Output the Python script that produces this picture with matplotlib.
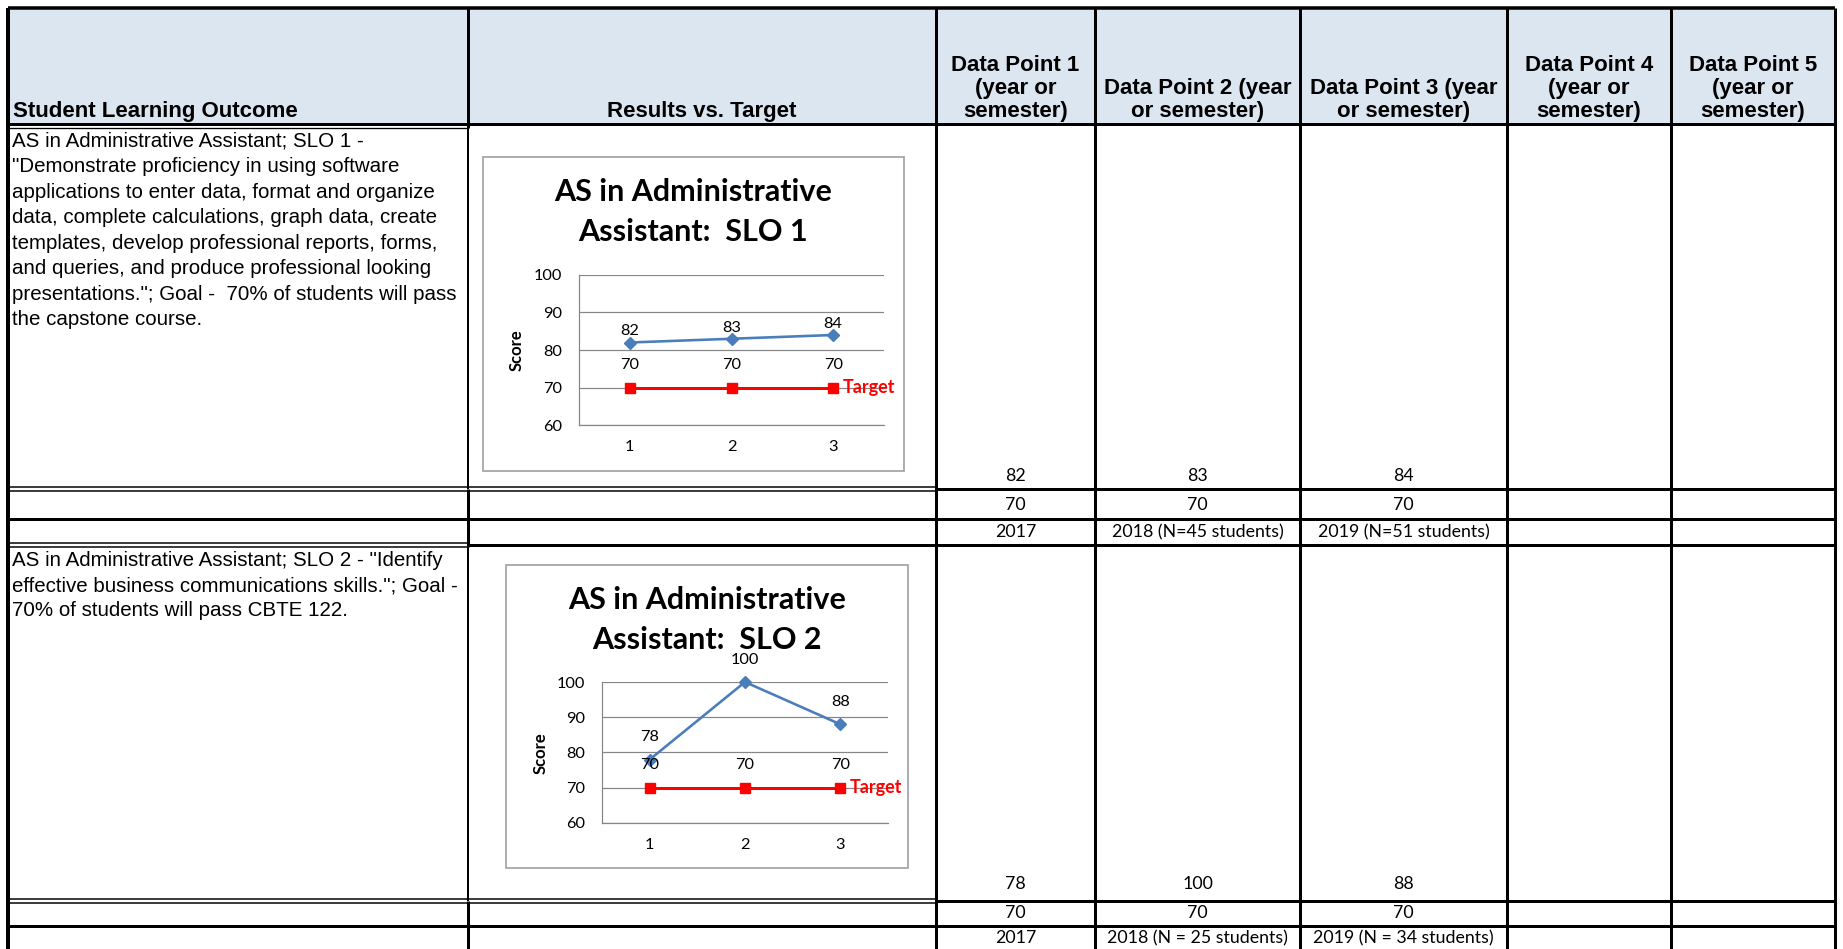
import matplotlib.pyplot as plt
from matplotlib.patches import Rectangle

# ---- data ----
points = [1, 2, 3]
slo1_scores = [82, 83, 84]
slo1_target = [70, 70, 70]
slo1_periods = ["2017", "2018 (N=45 students)", "2019 (N=51 students)"]
slo2_scores = [78, 100, 88]
slo2_target = [70, 70, 70]
slo2_periods = ["2017", "2018 (N = 25 students)", "2019 (N = 34 students)"]
y_ticks = [60, 70, 80, 90, 100]

headers = [["Student Learning Outcome"], ["Results vs. Target"],
           ["Data Point 1", "(year or", "semester)"],
           ["Data Point 2 (year", "or semester)"],
           ["Data Point 3 (year", "or semester)"],
           ["Data Point 4", "(year or", "semester)"],
           ["Data Point 5", "(year or", "semester)"]]

slo1_text = ['AS in Administrative Assistant; SLO 1 -',
             '"Demonstrate proficiency in using software',
             'applications to enter data, format and organize',
             'data, complete calculations, graph data, create',
             'templates, develop professional reports, forms,',
             'and queries, and produce professional looking',
             'presentations."; Goal -  70% of students will pass',
             'the capstone course.']
slo2_text = ['AS in Administrative Assistant; SLO 2 - "Identify',
             'effective business communications skills."; Goal -',
             '70% of students will pass CBTE 122.']

# ---- layout (pixels) ----
W, H = 1843, 949
cols = [8, 468, 936, 1095, 1300, 1507, 1671, 1835]
PX = 0.72  # points per pixel at dpi 100

fig = plt.figure(figsize=(W / 100, H / 100), dpi=100)
bg = fig.add_axes([0, 0, 1, 1])
bg.set_xlim(0, W)
bg.set_ylim(H, 0)
bg.axis('off')

arial = 'Liberation Sans'
cal = 'Lato'


def hline(y, x0, x1, w=3):
    bg.plot([x0, x1], [y, y], color='black', lw=w * PX, solid_capstyle='butt', zorder=5)


def vline(x, y0, y1, w=3):
    bg.plot([x, x], [y0, y1], color='black', lw=w * PX, solid_capstyle='butt', zorder=5)


# header fill
bg.add_patch(Rectangle((cols[0], 8), cols[-1] - cols[0], 116, fc='#DCE6F1', ec='none'))

# horizontal borders
hline(8, cols[0], cols[-1], 3.5)
hline(124, cols[0], cols[-1], 3)
hline(128, cols[0], cols[1], 1.3)
for top in [487, 899]:
    hline(top, cols[0], cols[2], 1.5)
    hline(top + 4, cols[0], cols[2], 1.5)
    hline(top + 2, cols[2], cols[-1], 3)
hline(519, cols[0], cols[-1], 3)
hline(926, cols[0], cols[-1], 3)
hline(543, cols[0], cols[1], 1.5)
hline(547, cols[0], cols[1], 1.5)
hline(545, cols[1], cols[-1], 3)

# vertical borders
vline(cols[0], 8, H, 4)
for x in cols[2:]:
    vline(x, 8, H, 3)
vline(cols[1], 8, 128, 3)
vline(cols[1], 128, 489, 2)
vline(cols[1], 489, 547, 3)
vline(cols[1], 547, 901, 2)
vline(cols[1], 901, H, 3)

# header text
hdr_last = 111
for i, lines in enumerate(headers):
    n = len(lines)
    for j, s in enumerate(lines):
        y = hdr_last - (n - 1 - j) * 23
        if i == 0:
            bg.text(cols[0] + 5, y, s, ha='left', va='center', family=arial,
                    weight='bold', fontsize=16)
        else:
            bg.text((cols[i] + cols[i + 1]) / 2, y, s, ha='center', va='center',
                    family=arial, weight='bold', fontsize=16)

# outcome text
for top, lines in [(141, slo1_text), (560, slo2_text)]:
    for j, s in enumerate(lines):
        bg.text(cols[0] + 4, top + 25.5 * j, s, ha='left', va='center', family=arial,
                fontsize=14.8)

# data cells
for scores, target, periods, ys in [(slo1_scores, slo1_target, slo1_periods, (476, 505, 532)),
                                    (slo2_scores, slo2_target, slo2_periods, (884, 913, 938))]:
    for k in range(len(points)):
        cx = (cols[2 + k] + cols[3 + k]) / 2
        bg.text(cx, ys[0], str(scores[k]), ha='center', va='center', family=cal, fontsize=12.8)
        bg.text(cx, ys[1], str(target[k]), ha='center', va='center', family=cal, fontsize=12.8)
        bg.text(cx, ys[2], periods[k], ha='center', va='center', family=cal, fontsize=12.8)


# ---- charts ----
def chart(frame, plot, title_xy, ylab_xy, name, scores, target, score_off):
    fx0, fy0, fx1, fy1 = frame
    bg.add_patch(Rectangle((fx0, fy0), fx1 - fx0, fy1 - fy0, fc='white', ec='#A6A6A6',
                           lw=1.8 * PX, zorder=2))
    tx, ty = title_xy
    bg.text(tx, ty, "AS in Administrative", ha='center', va='center', family=cal,
            weight='bold', fontsize=22, zorder=3)
    bg.text(tx, ty + 40, "Assistant:  " + name, ha='center', va='center', family=cal,
            weight='bold', fontsize=22, zorder=3)
    bg.text(ylab_xy[0], ylab_xy[1], "Score", rotation=90, ha='center', va='center',
            family=cal, weight='bold', fontsize=12, zorder=3)

    px0, py0, px1, py1 = plot
    ax = fig.add_axes([px0 / W, 1 - py1 / H, (px1 - px0) / W, (py1 - py0) / H])
    ax.set_facecolor('none')
    ax.set_xlim(0.5, 3.5)
    ax.set_ylim(60, 100)
    ax.set_yticks(y_ticks)
    ax.set_xticks(points)
    ax.grid(axis='y', color='#868686', lw=1.2 * PX)
    ax.set_axisbelow(True)
    for s in ['top', 'right']:
        ax.spines[s].set_visible(False)
    for s in ['left', 'bottom']:
        ax.spines[s].set_color('#868686')
        ax.spines[s].set_linewidth(1.2 * PX)
    ax.tick_params(length=0, labelsize=11.8)
    ax.tick_params(axis='y', pad=12)
    ax.tick_params(axis='x', pad=11)
    for lab in ax.get_xticklabels() + ax.get_yticklabels():
        lab.set_family(cal)

    ax.plot(points, scores, color='#4A7EBB', lw=2.6 * PX, marker='D', ms=6,
            clip_on=False, zorder=3)
    ax.plot(points, target, color='#FF0000', lw=3 * PX, marker='s', ms=7.5,
            clip_on=False, zorder=4)
    for x, v in zip(points, scores):
        ax.annotate(str(v), (x, v), xytext=(0, score_off), textcoords='offset points',
                    ha='center', va='center', family=cal, fontsize=11.8)
    for x, v in zip(points, target):
        ax.annotate(str(v), (x, v), xytext=(0, 16.5), textcoords='offset points',
                    ha='center', va='center', family=cal, fontsize=11.8)
    ax.annotate("Target", (points[-1], target[-1]), xytext=(7, 0), textcoords='offset points',
                ha='left', va='center', family=cal, weight='bold', fontsize=13,
                color='#FF0000')


chart((483, 157, 904, 471), (579, 275, 884, 425), (693, 192), (517, 350), "SLO 1",
      slo1_scores, slo1_target, 8)
chart((506, 565, 908, 868), (602, 682, 888, 823), (707, 600), (541, 753), "SLO 2",
      slo2_scores, slo2_target, 16)

fig.savefig('out.png', dpi=100)
